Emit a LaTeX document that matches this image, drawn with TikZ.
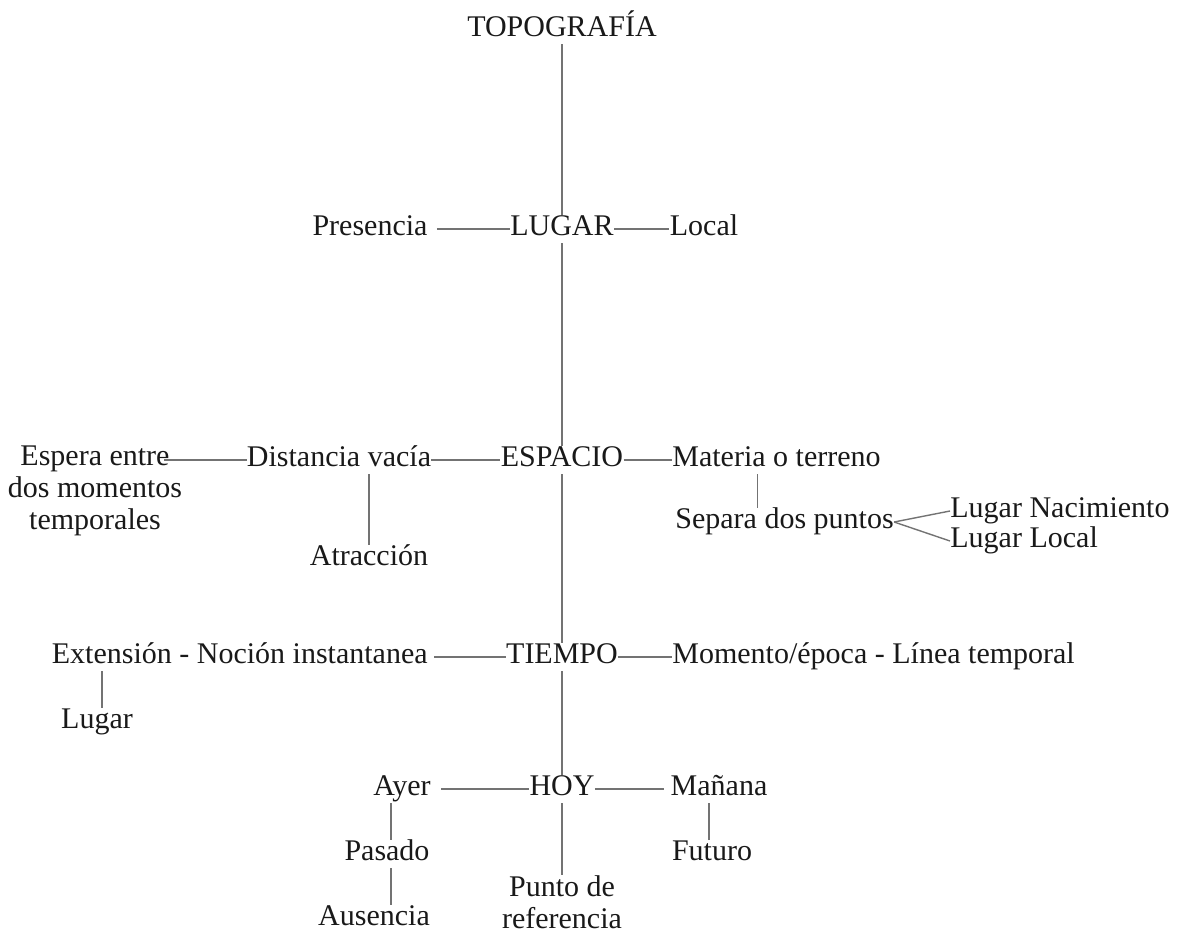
\documentclass[tikz,border=0pt]{standalone}
\usepackage{fontspec}
\setmainfont{Liberation Serif}
\begin{document}
\begin{tikzpicture}[x=.5pt, y=-.5pt,
    every node/.style={inner sep=0pt, text height=10pt, text depth=4pt, text=black!90, font=\fontsize{15}{16}\selectfont},
    twoline/.style={align=center, anchor=north, text height={}, text depth={}},
    link/.style={draw=black!55, line width=.7pt}]
\useasboundingbox (0,0) rectangle (1179,933);
\node (topo) at (562,30) {TOPOGRAFÍA};
\node (lug) at (562,229) {LUGAR};
\node (pres) at (370,229) {Presencia};
\node (loc) at (704,229) {Local};
\node (esp) at (562,460) {ESPACIO};
\node (dist) at (339,460) {Distancia vacía};
\node[twoline] (espera) at (95,445) {Espera entre\\dos momentos\\temporales};
\node (atr) at (369,559) {Atracción};
\node[anchor=west] (mat) at (672,460) {Materia o terreno};
\node[anchor=west] (sep) at (675,522) {Separa dos puntos};
\node[anchor=west] (nac) at (950,511) {Lugar Nacimiento};
\node[anchor=west] (lloc) at (950,541) {Lugar Local};
\node (tie) at (562,657) {TIEMPO};
\node[anchor=east] (ext) at (428,657) {Extensión - Noción instantanea};
\node[anchor=west] (mom) at (672,657) {Momento/época - Línea temporal};
\node (lgr) at (97,722) {Lugar};
\node (hoy) at (562,789) {HOY};
\node (aye) at (402,789) {Ayer};
\node (man) at (719,789) {Mañana};
\node (pas) at (387,854) {Pasado};
\node (fut) at (712,854) {Futuro};
\node (aus) at (374,919) {Ausencia};
\node[twoline] (pun) at (562,875) {Punto de\\referencia};

\draw[link] (topo) -- (lug) -- (esp) -- (tie) -- (hoy) -- (pun);
\draw[link, shorten <=4.5pt] (pres) -- (lug);
\draw[link] (lug) -- (loc);
\draw[link, shorten >=-9pt] (dist.west) -- (dist.west -| espera.east);
\draw[link] (dist) -- (esp) -- (mat);
\draw[link] (atr.north |- dist.south) -- (atr.north);
\draw[link] ([xshift=-9.5pt]mat.south) -- ([xshift=-9.5pt]mat.south |- sep.north);
\draw[link] (sep.east) -- (nac.west);
\draw[link] (sep.east) -- (lloc.west);
\draw[link, shorten <=3pt] (ext) -- (tie);
\draw[link] (tie) -- (mom);
\draw[link] ([xshift=2.5pt]lgr.north |- ext.south) -- ([xshift=2.5pt]lgr.north);
\draw[link, shorten <=5pt] (aye) -- (hoy);
\draw[link, shorten >=3pt] (hoy) -- (man);
\draw[link] ([xshift=2pt]pas.north |- aye.south) -- ([xshift=2pt]pas.north);
\draw[link] ([xshift=2pt]pas.south) -- ([xshift=2pt]pas.south |- aus.north);
\draw[link] ([xshift=-1.5pt]fut.north |- man.south) -- ([xshift=-1.5pt]fut.north);
\end{tikzpicture}
\end{document}
